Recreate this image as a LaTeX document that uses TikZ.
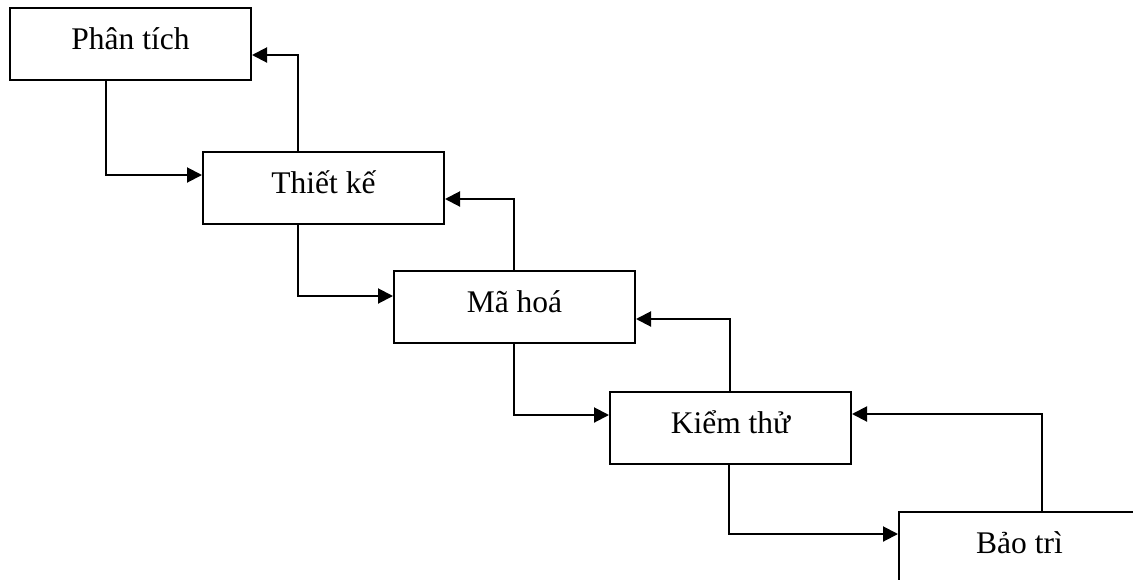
\documentclass[tikz,border=0pt]{standalone}
\usepackage{fontspec}
\setmainfont{Liberation Serif}
\usetikzlibrary{arrows.meta}
\begin{document}
\begin{tikzpicture}[x=1pt,y=-1pt,
  stagebox/.style={draw,line width=2pt,anchor=north west,inner sep=0pt,
    minimum width=241pt,text height=41pt,text depth=31pt,
    font=\fontsize{31.5}{36}\selectfont},
  arr/.style={line width=2pt,-{Triangle[length=15pt,width=15pt]}}]
\useasboundingbox (0,0) rectangle (1133,579);
\clip (0,0) rectangle (1133,579);
\fill[white] (0,0) rectangle (1133,579);
\node[stagebox] (P) at (9,7) {Phân tích};
\node[stagebox] (T) at (202,151) {Thiết kế};
\node[stagebox] (M) at (393,270) {Mã hoá};
\node[stagebox] (K) at (609,391) {Kiểm thử};
\node[stagebox] (B) at (898,511) {Bảo trì};
% forward connectors
\draw[arr] ([xshift=97pt]P.south west) |- ([yshift=-24pt]T.north west);
\draw[arr] ([xshift=96pt]T.south west) |- ([yshift=-26pt]M.north west);
\draw[arr] ([xshift=121pt]M.south west) |- ([yshift=-24pt]K.north west);
\draw[arr] ([xshift=120pt]K.south west) |- ([yshift=-23pt]B.north west);
% feedback connectors
\draw[arr] ([xshift=96pt]T.north west) |- ([yshift=-48pt]P.north east);
\draw[arr] ([xshift=121pt]M.north west) |- ([yshift=-48pt]T.north east);
\draw[arr] ([xshift=121pt]K.north west) |- ([yshift=-49pt]M.north east);
\draw[arr] ([xshift=144pt]B.north west) |- ([yshift=-23pt]K.north east);
\end{tikzpicture}
\end{document}
